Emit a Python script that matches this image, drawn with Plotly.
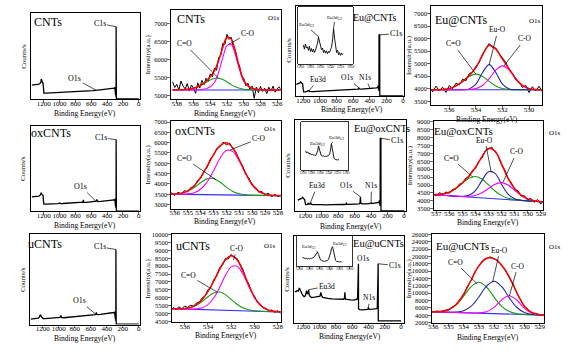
import numpy as np
import plotly.graph_objects as go

W, H = 572, 360
SERIF = "Liberation Serif"

# ======================= DATA =======================
# ---- XPS survey spectra (counts normalised to panel height) ----
cnts_survey_be = [1350, 1320, 1290, 1260, 1245, 1236, 1230, 1224, 1215, 1208, 1203, 1198, 1170, 1140, 1100, 1060, 1020, 980, 940, 900,
                  860, 820, 780, 740, 700, 660, 620, 580, 545, 535, 530, 525, 515, 480, 440, 400, 360, 330, 310, 302,
                  298, 295, 292, 290, 288, 286.5, 285.5, 284.5, 283.5, 282, 270, 200, 100, 0]
cnts_survey_counts = [0.165, 0.17, 0.168, 0.175, 0.185, 0.2, 0.235, 0.205, 0.19, 0.188, 0.12, 0.072, 0.073, 0.074, 0.076, 0.078, 0.079, 0.081, 0.083, 0.085,
                      0.087, 0.089, 0.091, 0.093, 0.095, 0.097, 0.099, 0.101, 0.104, 0.108, 0.11, 0.106, 0.106, 0.109, 0.112, 0.116, 0.12, 0.124, 0.13, 0.138,
                      0.11, 0.13, 0.05, 0.12, 0.03, 0.1, 0.84, 0.84, 0.01, 0.005, 0.005, 0.005, 0.005, 0.005]

ox_survey_be = [1350, 1320, 1290, 1260, 1245, 1236, 1230, 1224, 1215, 1208, 1203, 1198, 1170, 1140, 1100, 1060, 1020, 1000, 990, 960,
                920, 880, 840, 800, 760, 720, 705, 700, 695, 660, 620, 580, 545, 535, 530, 525, 515, 480, 440, 400,
                360, 330, 310, 302, 298, 295, 292, 290, 288, 286.5, 285.5, 284.5, 283.5, 282, 270, 200, 100, 0]
ox_survey_counts = [0.17, 0.175, 0.172, 0.178, 0.19, 0.205, 0.22, 0.2, 0.19, 0.185, 0.12, 0.085, 0.086, 0.087, 0.088, 0.09, 0.092, 0.1, 0.092, 0.093,
                    0.095, 0.096, 0.098, 0.1, 0.101, 0.103, 0.11, 0.135, 0.108, 0.106, 0.108, 0.11, 0.113, 0.12, 0.14, 0.118, 0.115, 0.117, 0.12, 0.123,
                    0.126, 0.13, 0.135, 0.14, 0.115, 0.135, 0.06, 0.125, 0.04, 0.1, 0.84, 0.84, 0.01, 0.005, 0.005, 0.005, 0.005, 0.005]

u_survey_be = [1350, 1320, 1290, 1260, 1245, 1236, 1230, 1224, 1215, 1208, 1203, 1198, 1170, 1140, 1100, 1060, 1020, 985, 975, 965,
               940, 900, 860, 820, 780, 740, 700, 660, 620, 580, 545, 535, 530, 525, 515, 480, 440, 400, 360, 330,
               310, 302, 298, 295, 292, 290, 288, 286.5, 285.5, 284.5, 283.5, 282, 270, 200, 100, 0]
u_survey_counts = [0.06, 0.062, 0.065, 0.07, 0.08, 0.095, 0.11, 0.095, 0.085, 0.08, 0.07, 0.065, 0.066, 0.067, 0.068, 0.07, 0.072, 0.08, 0.1, 0.078,
                   0.075, 0.078, 0.08, 0.083, 0.086, 0.09, 0.093, 0.095, 0.098, 0.101, 0.11, 0.118, 0.135, 0.112, 0.11, 0.112, 0.116, 0.12, 0.124, 0.128,
                   0.133, 0.14, 0.115, 0.135, 0.06, 0.125, 0.04, 0.1, 0.83, 0.83, 0.01, 0.005, 0.005, 0.005, 0.005, 0.005]

eu_cnts_survey_be = [1290, 1270, 1250, 1240, 1232, 1225, 1215, 1208, 1202, 1196, 1170, 1150, 1135, 1125, 1110, 1080, 1040, 1000, 960, 920,
                     880, 840, 800, 760, 720, 700, 680, 640, 600, 560, 540, 532, 525, 500, 460, 420, 402, 395, 380, 350,
                     320, 305, 300, 296, 293, 291, 290, 289, 281, 280, 270, 200, 100, 0]
eu_cnts_survey_counts = [0.13, 0.135, 0.14, 0.15, 0.16, 0.15, 0.145, 0.14, 0.09, 0.05, 0.05, 0.055, 0.065, 0.055, 0.052, 0.054, 0.056, 0.058, 0.059, 0.061,
                         0.062, 0.064, 0.065, 0.067, 0.068, 0.072, 0.069, 0.071, 0.073, 0.075, 0.08, 0.095, 0.082, 0.08, 0.082, 0.085, 0.092, 0.085, 0.088, 0.09,
                         0.095, 0.1, 0.12, 0.08, 0.11, 0.06, 0.1, 0.68, 0.68, 0.005, 0.005, 0.005, 0.005, 0.005]

eu_ox_survey_be = [1290, 1270, 1250, 1240, 1232, 1225, 1215, 1208, 1202, 1196, 1175, 1165, 1155, 1140, 1135, 1128, 1110, 1080, 1040, 1000,
                   960, 920, 880, 840, 800, 760, 720, 705, 700, 695, 660, 620, 580, 545, 535, 530, 525, 500, 460, 420,
                   402, 395, 380, 350, 320, 305, 300, 296, 293, 291, 290, 289, 281, 280, 270, 200, 100, 0]
eu_ox_survey_counts = [0.125, 0.13, 0.135, 0.145, 0.155, 0.14, 0.135, 0.13, 0.1, 0.075, 0.078, 0.09, 0.08, 0.085, 0.1, 0.08, 0.074, 0.072, 0.073, 0.074,
                       0.073, 0.075, 0.074, 0.076, 0.075, 0.077, 0.076, 0.08, 0.095, 0.078, 0.077, 0.078, 0.079, 0.082, 0.095, 0.16, 0.088, 0.082, 0.083, 0.085,
                       0.095, 0.086, 0.088, 0.09, 0.094, 0.1, 0.12, 0.085, 0.11, 0.06, 0.1, 0.8, 0.8, 0.005, 0.005, 0.005, 0.005, 0.005]

eu_u_survey_be = [1305, 1290, 1275, 1260, 1248, 1240, 1230, 1215, 1200, 1190, 1175, 1165, 1160, 1150, 1140, 1135, 1128, 1115, 1100, 1060,
                  1020, 995, 985, 975, 960, 940, 900, 850, 800, 750, 710, 695, 690, 684, 660, 620, 580, 550, 538, 533,
                  531.5, 523.5, 522, 510, 480, 440, 410, 402, 398, 390, 350, 320, 300, 292, 290.5, 281.5, 280, 250, 200, 100, 0]
eu_u_survey_counts = [0.36, 0.355, 0.37, 0.365, 0.4, 0.38, 0.35, 0.33, 0.31, 0.3, 0.31, 0.35, 0.37, 0.33, 0.34, 0.38, 0.32, 0.3, 0.29, 0.295,
                      0.3, 0.305, 0.35, 0.31, 0.29, 0.285, 0.28, 0.275, 0.275, 0.27, 0.27, 0.28, 0.35, 0.27, 0.265, 0.262, 0.26, 0.262, 0.27, 0.3,
                      0.68, 0.68, 0.16, 0.15, 0.148, 0.15, 0.152, 0.175, 0.155, 0.152, 0.155, 0.158, 0.162, 0.17, 0.68, 0.68, 0.02, 0.02, 0.02, 0.02, 0.02]

# ---- Eu3d insets (normalised) ----
inset_be = [1194, 1192, 1190, 1188, 1186, 1184, 1182, 1180, 1178, 1176, 1174, 1172, 1170, 1168, 1166, 1164, 1162, 1160, 1158, 1156,
            1154, 1152, 1150, 1148, 1146, 1144, 1142, 1140, 1138, 1136, 1134, 1132, 1130, 1128, 1126, 1124, 1122, 1120, 1118, 1116]
eu_cnts_inset = [0.33, 0.26, 0.35, 0.28, 0.3, 0.24, 0.31, 0.22, 0.27, 0.21, 0.26, 0.2, 0.24, 0.3, 0.36, 0.47, 0.38, 0.3, 0.25, 0.28,
                 0.2, 0.24, 0.19, 0.23, 0.18, 0.22, 0.2, 0.25, 0.3, 0.42, 0.62, 0.45, 0.3, 0.2, 0.24, 0.16, 0.2, 0.15, 0.19, 0.16]
eu_ox_inset = [0.4, 0.36, 0.38, 0.35, 0.36, 0.33, 0.34, 0.32, 0.33, 0.31, 0.32, 0.3, 0.31, 0.34, 0.4, 0.5, 0.42, 0.34, 0.31, 0.3,
               0.29, 0.3, 0.28, 0.29, 0.28, 0.3, 0.29, 0.31, 0.34, 0.42, 0.55, 0.45, 0.3, 0.25, 0.23, 0.22, 0.22, 0.21, 0.22, 0.21]
eu_u_inset = [0.3, 0.28, 0.27, 0.26, 0.27, 0.25, 0.26, 0.25, 0.27, 0.26, 0.28, 0.3, 0.32, 0.38, 0.45, 0.47, 0.4, 0.3, 0.22, 0.2,
              0.18, 0.17, 0.17, 0.18, 0.18, 0.2, 0.24, 0.32, 0.45, 0.6, 0.65, 0.5, 0.3, 0.2, 0.17, 0.16, 0.16, 0.15, 0.16, 0.15]

# ---- O1s high-resolution spectra: raw counts (evenly spaced, 0.25 eV) ----
cnts_o1s_span = (538.5, 525.5)
cnts_o1s_counts = [5380, 5220, 5310, 5150, 5400, 5260, 5180, 5330, 5120, 5290, 5200, 5060, 5350, 5210, 5420, 5300, 5480, 5390, 5600, 5520,
                   5760, 5700, 6050, 6110, 6450, 6420, 6700, 6560, 6620, 6350, 6260, 5930, 5820, 5520, 5480, 5270, 5340, 5150, 5260, 4920,
                   5230, 5080, 5250, 5110, 5200, 5050, 5230, 5120, 5260, 5090, 5180, 5240, 5130]
ox_o1s_span = (536.5, 527.5)
ox_o1s_counts = [3460, 3560, 3440, 3600, 3500, 3680, 3610, 3830, 3860, 4150, 4260, 4620, 4800, 5200, 5380, 5720, 5800, 6020, 5900, 5980,
                 5700, 5520, 5120, 4880, 4450, 4280, 3920, 3850, 3600, 3640, 3440, 3560, 3380, 3500, 3390, 3480, 3410]
u_o1s_span = (537.0, 527.75)
u_o1s_counts = [5380, 5250, 5420, 5300, 5460, 5380, 5520, 5460, 5650, 5720, 5980, 6100, 6500, 6650, 7150, 7350, 7900, 8050, 8500, 8450,
                8750, 8550, 8500, 8100, 7800, 7200, 6900, 6350, 6100, 5700, 5600, 5350, 5320, 5150, 5220, 5050, 5180, 5000]
eu_cnts_o1s_span = (537.5, 529.0)
eu_cnts_o1s_counts = [4050, 3880, 4100, 3920, 4060, 3850, 4130, 4000, 4220, 4150, 4380, 4320, 4600, 4660, 4900, 5050, 5380, 5600, 5800, 5650,
                      5620, 5400, 5200, 5050, 4750, 4620, 4350, 4280, 4050, 4130, 3850, 4080, 3910, 4100, 3880]
eu_ox_o1s_span = (537.25, 528.75)
eu_ox_o1s_counts = [4480, 4300, 4520, 4380, 4560, 4480, 4720, 4750, 5050, 5100, 5420, 5520, 5900, 6050, 6500, 6700, 7150, 7250, 7400, 7100,
                    6850, 6300, 5950, 5400, 5150, 4700, 4650, 4300, 4320, 4050, 4150, 3900, 4080, 3800, 4000]
eu_u_o1s_span = (536.0, 528.75)
eu_u_o1s_counts = [4900, 5150, 4950, 5350, 5400, 6250, 6800, 8350, 9600, 11900, 13500, 15900, 17300, 18900, 19400, 19900, 19300, 18900, 17500, 16300,
                   14200, 12500, 10000, 8300, 6300, 5500, 4600, 4500, 4050, 4200]

# ---- O1s peak-fit components (0.5 eV grid) ----
cnts_fit_span = (538.5, 525.5)
cnts_fit_baseline = [5150, 5150, 5150, 5150, 5150, 5150, 5150, 5150, 5150, 5150, 5150, 5150, 5150, 5150, 5150, 5150, 5150, 5150, 5150, 5150,
                     5150, 5150, 5150, 5150, 5150, 5150, 5150]
cnts_fit_CdO = [5152, 5155, 5160, 5168, 5180, 5200, 5235, 5290, 5360, 5430, 5472, 5476, 5440, 5375, 5300, 5240, 5198, 5172, 5160, 5155,
                5152, 5150, 5150, 5150, 5150, 5150, 5150]
cnts_fit_CO = [5150, 5150, 5150, 5150, 5150, 5150, 5155, 5165, 5185, 5240, 5360, 5644, 6051, 6385, 6420, 6131, 5719, 5398, 5260, 5195,
               5170, 5160, 5155, 5152, 5150, 5150, 5150]

ox_fit_span = (536.5, 527.5)
ox_fit_baseline = [3510, 3505, 3501, 3496, 3492, 3487, 3482, 3478, 3473, 3468, 3463, 3459, 3454, 3449, 3445, 3440, 3435, 3431, 3426]
ox_fit_CdO = [3513, 3518, 3551, 3643, 3821, 4059, 4245, 4261, 4092, 3844, 3639, 3522, 3472, 3453, 3445, 3440, 3435, 3431, 3426]
ox_fit_CO = [3510, 3505, 3506, 3519, 3578, 3743, 4089, 4635, 5234, 5619, 5567, 5108, 4490, 3970, 3654, 3508, 3453, 3435, 3426]

u_fit_span = (537.5, 527.5)
u_fit_baseline = [5310, 5299, 5288, 5277, 5266, 5255, 5244, 5233, 5222, 5211, 5200, 5189, 5178, 5167, 5156, 5145, 5134, 5123, 5112, 5101, 5090]
u_fit_CdO = [5310, 5301, 5298, 5313, 5374, 5516, 5758, 6058, 6298, 6356, 6192, 5889, 5580, 5356, 5228, 5167, 5139, 5124, 5112, 5101, 5090]
u_fit_CO = [5310, 5299, 5288, 5278, 5274, 5288, 5359, 5560, 5980, 6646, 7407, 7956, 8002, 7515, 6746, 6020, 5530, 5267, 5155, 5112, 5092]

eu_cnts_fit_span = (537.5, 529.0)
eu_cnts_fit_baseline = [3960, 3960, 3960, 3960, 3960, 3960, 3960, 3960, 3960, 3960, 3960, 3960, 3960, 3960, 3960, 3960, 3960, 3960]
eu_cnts_fit_CdO = [3960, 3960, 3972, 4010, 4111, 4291, 4490, 4580, 4490, 4291, 4111, 4010, 3972, 3960, 3960, 3960, 3960, 3960]
eu_cnts_fit_EuO = [3960, 3960, 3960, 3960, 3960, 3960, 3993, 4179, 4644, 4960, 4644, 4179, 3993, 3960, 3960, 3960, 3960, 3960]
eu_cnts_fit_CO = [3960, 3960, 3960, 3960, 3960, 3960, 3968, 4004, 4129, 4401, 4744, 4910, 4744, 4401, 4129, 4004, 3968, 3960]

eu_ox_fit_span = (537.5, 528.5)
eu_ox_fit_baseline = [4400, 4373, 4346, 4319, 4292, 4265, 4238, 4211, 4184, 4157, 4130, 4103, 4076, 4049, 4022, 3995, 3968, 3941, 3914]
eu_ox_fit_CdO = [4406, 4398, 4429, 4545, 4783, 5119, 5428, 5541, 5374, 5011, 4621, 4329, 4159, 4074, 4028, 3996, 3968, 3941, 3914]
eu_ox_fit_EuO = [4400, 4373, 4346, 4319, 4294, 4282, 4347, 4650, 5278, 5841, 5735, 5050, 4422, 4127, 4033, 3996, 3968, 3941, 3914]
eu_ox_fit_CO = [4400, 4373, 4346, 4319, 4294, 4275, 4278, 4340, 4507, 4778, 5051, 5153, 4997, 4670, 4345, 4124, 4008, 3951, 3916]

eu_u_fit_span = (536.5, 528.5)
eu_u_fit_baseline = [5000, 4938, 4876, 4814, 4752, 4690, 4628, 4566, 4504, 4442, 4380, 4318, 4256, 4194, 4132, 4070, 4008]
eu_u_fit_CdO = [5000, 4967, 5041, 5493, 6794, 9169, 11810, 12966, 11686, 8921, 6422, 4997, 4421, 4223, 4136, 4070, 4008]
eu_u_fit_EuO = [5000, 4938, 4876, 4831, 4868, 5240, 6479, 8968, 11907, 13242, 11783, 8720, 6107, 4744, 4248, 4087, 4010]
eu_u_fit_CO = [5000, 4938, 4876, 4814, 4752, 4690, 4634, 4632, 4940, 6136, 8193, 9318, 8069, 5888, 4568, 4136, 4014]

# tick labels
survey_ticks = [1200, 1000, 800, 600, 400, 200, 0]
inset_ticks = [1200, 1180, 1160, 1140, 1120, 1100]

# ======================= STYLE / LAYOUT =======================
C_DATA = "black"
C_ENV = "#ff0000"
C_CdO = "#169c16"
C_CO = "#ff00ff"
C_EuO = "#2323a8"
C_BASE = "#2f2fff"

# panel boxes in pixels (left, top, right, bottom)
panels = {
    1: dict(box=(27, 10, 138, 98), xr=[1365, -20], yr=[0, 1], xt=survey_ticks, yt=None),
    2: dict(box=(169, 7, 280, 98), xr=[538.7, 525.6], yr=[4890, 7380], xt=[538, 536, 534, 532, 530, 528, 526], yt=[5000, 5500, 6000, 6500, 7000]),
    3: dict(box=(296, 3, 405, 95), xr=[1283, -12], yr=[0, 1], xt=survey_ticks, yt=None),
    4: dict(box=(432, 3, 545, 104), xr=[537.4, 529.0], yr=[3340, 7300], xt=[536, 534, 532, 530], yt=[3500, 4000, 4500, 5000, 5500, 6000, 6500, 7000]),
    5: dict(box=(27, 125, 138, 212), xr=[1365, -20], yr=[0, 1], xt=survey_ticks, yt=None),
    6: dict(box=(169, 120, 280, 209), xr=[536.3, 527.8], yr=[2810, 7050], xt=[536, 535, 534, 533, 532, 531, 530, 529, 528],
            yt=[3000, 3500, 4000, 4500, 5000, 5500, 6000, 6500, 7000]),
    7: dict(box=(295, 119, 407, 212), xr=[1320, -24], yr=[0, 1], xt=survey_ticks, yt=None),
    8: dict(box=(435, 120, 546, 210), xr=[537.2, 528.8], yr=[3450, 9050], xt=[537, 536, 535, 534, 533, 532, 531, 530, 529],
            yt=[3500, 4000, 4500, 5000, 5500, 6000, 6500, 7000, 7500, 8000, 8500, 9000]),
    9: dict(box=(26, 235, 138, 327), xr=[1365, -20], yr=[0, 1], xt=survey_ticks, yt=None),
    10: dict(box=(170, 235, 280, 324), xr=[537.1, 527.75], yr=[4480, 10040], xt=[536, 534, 532, 530, 528],
             yt=[4500, 5000, 5500, 6000, 6500, 7000, 7500, 8000, 8500, 9000, 9500, 10000]),
    11: dict(box=(294, 237, 405, 325), xr=[1309, -36], yr=[0, 1], xt=survey_ticks, yt=None),
    12: dict(box=(433, 235, 547, 325), xr=[536.1, 528.7], yr=[2000, 26100], xt=[536, 535, 534, 533, 532, 531, 530, 529],
             yt=[2000, 4000, 6000, 8000, 10000, 12000, 14000, 16000, 18000, 20000, 22000, 24000, 26000]),
    # Eu3d insets
    13: dict(box=(298, 4, 353, 62), xr=[1204, 1096], yr=[0, 1], xt=inset_ticks, yt=None, inset=True),
    14: dict(box=(301, 121, 348, 170), xr=[1204, 1096], yr=[0, 1], xt=inset_ticks, yt=None, inset=True),
    15: dict(box=(297, 237, 352, 268), xr=[1204, 1096], yr=[0, 1], xt=inset_ticks, yt=None, inset=True),
}


def ax_names(i):
    return ("x" if i == 1 else f"x{i}"), ("y" if i == 1 else f"y{i}")


def to_px(i, x, y):
    p = panels[i]
    x0, y0, x1, y1 = p["box"]
    xa, xb = p["xr"]
    ya, yb = p["yr"]
    return (x0 + (x - xa) / (xb - xa) * (x1 - x0), y1 - (y - ya) / (yb - ya) * (y1 - y0))


fig = go.Figure()
layout = dict(width=W, height=H, margin=dict(l=0, r=0, t=0, b=0), autosize=False,
              paper_bgcolor="white", plot_bgcolor="white", showlegend=False,
              font=dict(family=SERIF, color="black"))

for i, p in panels.items():
    x0, y0, x1, y1 = p["box"]
    xn, yn = ax_names(i)
    inset = p.get("inset", False)
    common = dict(showline=True, linecolor="black", linewidth=0.8 if inset else 1, mirror=True,
                  showgrid=False, zeroline=False, fixedrange=True)
    layout["xaxis" if i == 1 else f"xaxis{i}"] = dict(
        common, domain=[x0 / W, x1 / W], range=p["xr"], anchor=yn,
        tickmode="array", tickvals=p["xt"], ticktext=[str(v) for v in p["xt"]], tickangle=0,
        ticks="outside", ticklen=1.5 if inset else 2.5, tickwidth=0.8,
        tickfont=dict(family=SERIF, size=3.6 if inset else 7, color="black"),
        ticklabelstandoff=-3 if inset else -5)
    ya = dict(common, domain=[1 - y1 / H, 1 - y0 / H], range=p["yr"], anchor=xn)
    if p["yt"] is None:
        ya.update(showticklabels=False, ticks="")
    else:
        ya.update(tickmode="array", tickvals=p["yt"], ticktext=[str(v) for v in p["yt"]],
                  ticks="outside", ticklen=2.5, tickwidth=0.8, ticklabelstandoff=-1,
                  tickfont=dict(family=SERIF, size=6.5, color="black"))
    layout["yaxis" if i == 1 else f"yaxis{i}"] = ya


def add_line(i, x, y, color, width, shape="linear"):
    xn, yn = ax_names(i)
    fig.add_trace(go.Scatter(x=list(x), y=list(y), mode="lines", xaxis=xn, yaxis=yn,
                             line=dict(color=color, width=width, shape=shape),
                             hoverinfo="skip", showlegend=False))


# survey panels
for i, (bx, cy) in {1: (cnts_survey_be, cnts_survey_counts), 5: (ox_survey_be, ox_survey_counts),
                    9: (u_survey_be, u_survey_counts), 3: (eu_cnts_survey_be, eu_cnts_survey_counts),
                    7: (eu_ox_survey_be, eu_ox_survey_counts), 11: (eu_u_survey_be, eu_u_survey_counts)}.items():
    add_line(i, bx, cy, C_DATA, 1.3)

for i, cy in {13: eu_cnts_inset, 14: eu_ox_inset, 15: eu_u_inset}.items():
    add_line(i, inset_be, cy, C_DATA, 0.9)


def o1s_panel(i, span, counts, fit_span, base, comps):
    be = np.linspace(span[0], span[1], len(counts))
    add_line(i, be, counts, C_DATA, 1.0)
    fbe = np.linspace(fit_span[0], fit_span[1], len(base))
    b = np.array(base, dtype=float)
    env = b.copy()
    add_line(i, fbe, base, C_BASE, 1.1)
    for vals, col in comps:
        add_line(i, fbe, vals, col, 1.1, "spline")
        env += np.array(vals, dtype=float) - b
    add_line(i, fbe, env, C_ENV, 1.5, "spline")


o1s_panel(2, cnts_o1s_span, cnts_o1s_counts, cnts_fit_span, cnts_fit_baseline,
          [(cnts_fit_CdO, C_CdO), (cnts_fit_CO, C_CO)])
o1s_panel(6, ox_o1s_span, ox_o1s_counts, ox_fit_span, ox_fit_baseline,
          [(ox_fit_CdO, C_CdO), (ox_fit_CO, C_CO)])
o1s_panel(10, u_o1s_span, u_o1s_counts, u_fit_span, u_fit_baseline,
          [(u_fit_CdO, C_CdO), (u_fit_CO, C_CO)])
o1s_panel(4, eu_cnts_o1s_span, eu_cnts_o1s_counts, eu_cnts_fit_span, eu_cnts_fit_baseline,
          [(eu_cnts_fit_CdO, C_CdO), (eu_cnts_fit_EuO, C_EuO), (eu_cnts_fit_CO, C_CO)])
o1s_panel(8, eu_ox_o1s_span, eu_ox_o1s_counts, eu_ox_fit_span, eu_ox_fit_baseline,
          [(eu_ox_fit_CdO, C_CdO), (eu_ox_fit_EuO, C_EuO), (eu_ox_fit_CO, C_CO)])
o1s_panel(12, eu_u_o1s_span, eu_u_o1s_counts, eu_u_fit_span, eu_u_fit_baseline,
          [(eu_u_fit_CdO, C_CdO), (eu_u_fit_EuO, C_EuO), (eu_u_fit_CO, C_CO)])

annotations = []


def label(px, py, text, size, **kw):
    d = dict(x=px / W, y=1 - py / H, xref="paper", yref="paper", text=text, showarrow=False,
             xanchor="center", yanchor="middle", font=dict(family=SERIF, size=size, color="black"))
    d.update(kw)
    annotations.append(d)


def pointer(i, tx, ty, px, py, text, size=7.5):
    xn, yn = ax_names(i)
    hx, hy = to_px(i, tx, ty)
    annotations.append(dict(x=tx, y=ty, xref=xn, yref=yn, text=text, showarrow=True, arrowhead=0,
                            arrowwidth=0.7, arrowcolor="black", ax=px - hx, ay=py - hy, standoff=0,
                            font=dict(family=SERIF, size=size, color="black")))


# panel names
label(45, 19, "CNTs", 12)
label(189, 16, "CNTs", 12)
label(376, 15, "Eu@CNTs", 10)
label(463, 17, "Eu@CNTs", 12)
label(48, 132, "oxCNTs", 12)
label(193, 130, "oxCNTs", 12)
label(383, 128, "Eu@oxCNTs", 10.5)
label(465, 130, "Eu@oxCNTs", 11)
label(42, 245, "uCNTs", 12)
label(191, 247, "uCNTs", 12)
label(379, 245, "Eu@uCNTs", 10.5)
label(464, 247, "Eu@uCNTs", 11)
# O1s tags
for (px, py) in [(273, 15), (538, 18), (269, 128), (558, 132), (269, 247), (558, 248)]:
    label(px, py, "O1s", 7)

# axis titles
for (px, py) in [(82, 112), (224, 112), (352, 108), (489, 118), (82, 226), (224, 222), (351, 227), (490, 223),
                 (82, 341), (225, 338), (350, 339), (490, 340)]:
    label(px, py, "Binding Energy(eV)", 7.5)
for (px, py) in [(20, 54), (289, 48), (19, 168), (288, 165), (20, 281), (287, 281)]:
    label(px, py, "Counts/s", 7, textangle=-90)
for (px, py) in [(146, 52), (410, 53), (146, 164), (411, 165), (146, 280), (410, 280)]:
    label(px, py, "Intensity(a.u.)", 7, textangle=-90)

# peak pointers: survey
pointer(1, 285, 0.84, 97, 21, "C1s", 8)
pointer(1, 540, 0.106, 72, 77, "O1s", 8)
pointer(5, 285, 0.84, 98, 137, "C1s", 8)
pointer(5, 540, 0.12, 78, 187, "O1s", 8)
pointer(9, 285, 0.83, 97, 248, "C1s", 8)
pointer(9, 540, 0.115, 77, 303, "O1s", 8)
pointer(3, 282, 0.68, 397, 31, "C1s", 8)
pointer(3, 1130, 0.062, 318, 78, "Eu3d", 7.5)
pointer(3, 530, 0.095, 347, 76, "O1s", 7.5)
pointer(3, 400, 0.092, 366, 76, "N1s", 7.5)
pointer(7, 282, 0.8, 398, 140, "C1s", 8)
pointer(7, 1135, 0.1, 317, 186, "Eu3d", 7.5)
pointer(7, 530, 0.16, 346, 186, "O1s", 7.5)
pointer(7, 400, 0.095, 372, 186, "N1s", 7.5)
pointer(11, 531, 0.68, 363, 260, "O1s", 7.5)
pointer(11, 282, 0.68, 396, 267, "C1s", 7.5)
pointer(11, 400, 0.175, 370, 300, "N1s", 7.5)
pointer(11, 1135, 0.38, 327, 288, "Eu3d", 7.5)
# insets
pointer(13, 1163, 0.47, 306, 23, "Eu3d<sub>3/2</sub>", 5)
pointer(13, 1134, 0.62, 335, 15, "Eu3d<sub>5/2</sub>", 5)
pointer(14, 1163, 0.5, 317, 143, "Eu3d<sub>3/2</sub>", 5)
pointer(14, 1134, 0.55, 337, 137, "Eu3d<sub>5/2</sub>", 5)
pointer(15, 1163, 0.47, 309, 248, "Eu3d<sub>3/2</sub>", 4.5)
pointer(15, 1134, 0.65, 340, 245, "Eu3d<sub>5/2</sub>", 4.5)
# O1s components
pointer(2, 533.0, 5476, 183, 42, "C=O")
pointer(2, 531.8, 6420, 247, 31, "C-O")
pointer(6, 531.7, 5650, 258, 138, "C-O")
pointer(6, 532.8, 4200, 183, 158, "C=O")
pointer(10, 531.8, 8400, 236, 250, "C-O")
pointer(10, 533.2, 6350, 187, 277, "C=O")
pointer(4, 534.0, 4580, 455, 42, "C=O")
pointer(4, 533.0, 4960, 500, 28, "Eu-O")
pointer(4, 531.9, 4900, 527, 37, "C-O")
pointer(8, 534.2, 5500, 453, 158, "C=O")
pointer(8, 532.8, 5850, 487, 140, "Eu-O")
pointer(8, 531.9, 5150, 519, 152, "C-O")
pointer(12, 533.1, 12500, 457, 264, "C=O")
pointer(12, 532.1, 13000, 502, 252, "Eu-O")
pointer(12, 531.0, 9200, 520, 268, "C-O")

layout["annotations"] = annotations
fig.update_layout(**layout)
fig.write_html("out.html", config={"displayModeBar": False, "staticPlot": True},
               post_script="document.body.style.margin='0';document.body.style.overflow='hidden';")
